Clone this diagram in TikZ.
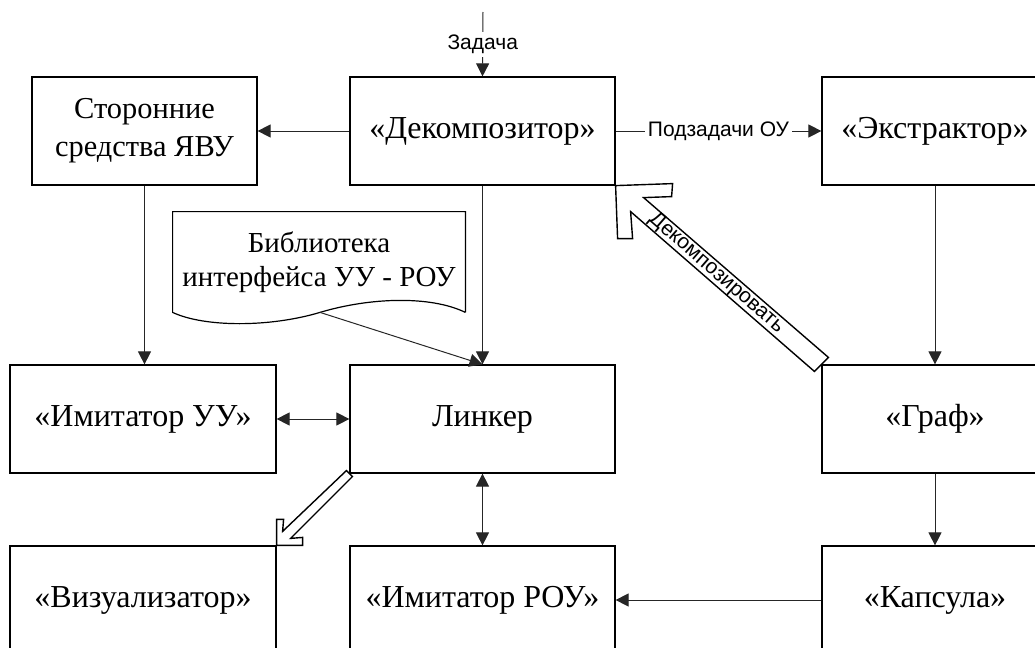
\documentclass[tikz,border=0pt]{standalone}
\usepackage{fontspec}
\setmainfont{Liberation Serif}
\setsansfont{Liberation Sans}
\usetikzlibrary{positioning,arrows.meta,calc}

\begin{document}
\begin{tikzpicture}[
  x=0.5pt, y=-0.5pt,
  font=\fontsize{16}{19}\selectfont,
  blk/.style={rectangle, draw=black, line width=0.6pt, minimum width=132.5pt,
              minimum height=54pt, inner sep=3pt, align=center, fill=white},
  doc/.style={rectangle, minimum width=146pt, minimum height=50pt, inner sep=3pt, align=center,
              font=\fontsize{14.5}{17}\selectfont},
  lbl/.style={font=\sffamily\fontsize{10.5}{12}\selectfont, inner sep=1.5pt},
  conn/.style={-{Triangle[length=6.5pt,width=6.5pt]}, draw=black!85, line width=0.5pt},
  dbl/.style={{Triangle[length=6.5pt,width=6.5pt]}-{Triangle[length=6.5pt,width=6.5pt]}, draw=black!85, line width=0.5pt},
  hol/.style={draw=black, line width=0.7pt, fill=white, line join=miter}
]
\useasboundingbox (0,0) rectangle (1035,648);
\clip (0,0) rectangle (1035,648);

\node[blk, minimum width=112.5pt, font=\fontsize{15.2}{19}\selectfont] (side) at (144.5,131) {Сторонние\\средства ЯВУ};
\node[blk] (dec)   at (482.5,131) {«Декомпозитор»};
\node[blk, minimum width=113pt] (ext) at (935,131) {«Экстрактор»};
\node[blk, minimum width=133pt] (imu) at (143,419) {«Имитатор УУ»};
\node[blk] (lnk)   at (482.5,419) {Линкер};
\node[blk, minimum width=113pt] (graph) at (935,419) {«Граф»};
\node[blk, minimum width=133pt] (vis) at (143,600) {«Визуализатор»};
\node[blk] (rou)   at (482.5,600) {«Имитатор РОУ»};
\node[blk, minimum width=113pt] (caps) at (935,600) {«Капсула»};

\node[doc] (lib) at (319,262) {Библиотека\\интерфейса УУ - РОУ};
\draw[line width=0.6pt] (lib.south east) -- (lib.north east) -- (lib.north west) -- (lib.south west)
  .. controls ($(lib.south west)+(32,15)$) and ($(lib.south)+(-49,15)$) .. ($(lib.south)+(1,0)$) coordinate (libw)
  .. controls ($(lib.south)+(51,-15)$) and ($(lib.south east)+(-35,-17)$) .. (lib.south east);

\coordinate (task) at (483,12);
\draw[conn] (task) -- node[lbl, fill=white] {Задача} (dec.north);
\draw[conn] (dec) -- (side);
\draw[conn] (dec) -- node[lbl, fill=white] {Подзадачи ОУ} (ext);
\draw[conn] (side.south) -- (side.south |- imu.north);
\draw[conn] (dec) -- (lnk);
\draw[conn] (libw) -- (lnk.north);
\draw[dbl] (imu) -- (lnk);
\draw[dbl] (lnk) -- (rou);
\draw[conn] (ext) -- (graph);
\draw[conn] (graph) -- (caps);
\draw[conn] (caps) -- (rou);

\draw[hol] (dec.south east) -- ++(57,-2) -- ++(-1,13) -- ($(dec.south east)+(28,12)$)
  -- ($(graph.north west)+(7,-7)$) -- ($(graph.north west)+(-7,7)$)
  -- ($(dec.south east)+(15,26)$) -- ++(2,27) -- ++(-15,0) -- cycle;
\node[lbl, rotate=-41] (decl) at ($(dec.south east)!0.49!(graph.north west)$) {Декомпозировать};

\draw[hol] (vis.north east) -- ++(0,-26) -- ++(7,0) -- ($(vis.north east)+(6,-14)$)
  -- ($(lnk.south west)+(-3,-3)$) -- ($(lnk.south west)+(3,3)$)
  -- ($(vis.north east)+(14,-7)$) -- ++(12,-1) -- ++(0,8) -- cycle;
\end{tikzpicture}
\end{document}
